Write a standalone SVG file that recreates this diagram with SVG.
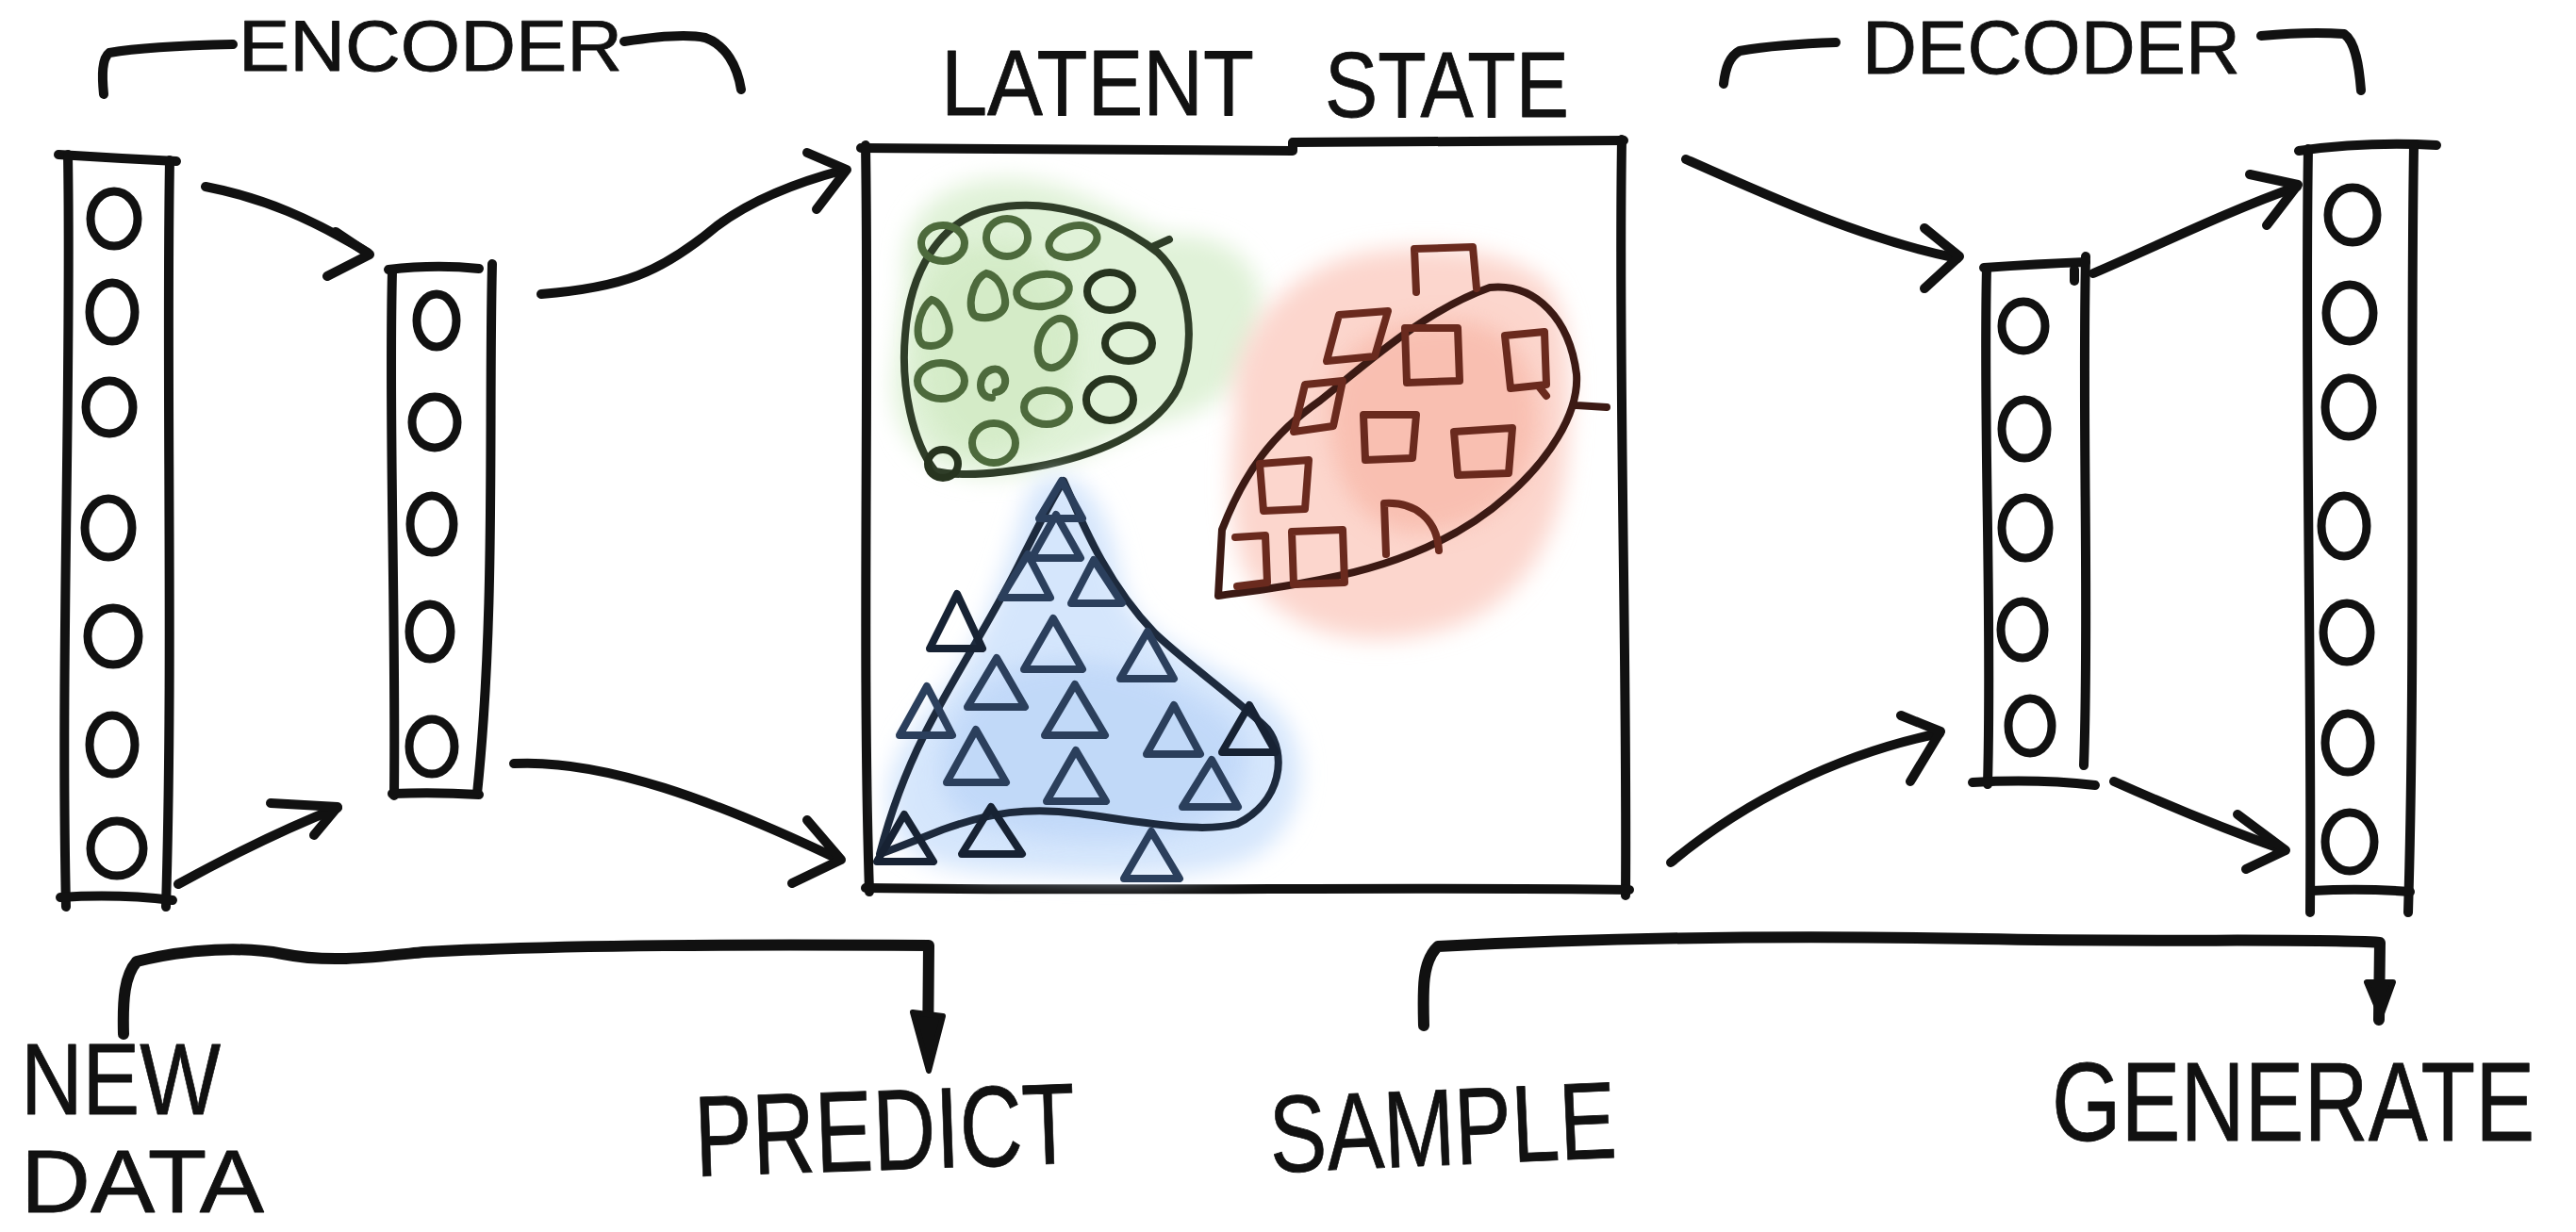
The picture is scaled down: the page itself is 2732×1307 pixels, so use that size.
<svg xmlns="http://www.w3.org/2000/svg" width="2732" height="1307" viewBox="0 0 2732 1307">
<defs>
<style>
.ink{fill:none;stroke:#111;stroke-width:10;stroke-linecap:round;stroke-linejoin:round}
.thick{stroke-width:12}
.unit{fill:none;stroke:#111;stroke-width:9}
.label{font-family:"Liberation Sans",Arial,sans-serif;fill:#111;stroke:#111;stroke-width:0.8;stroke-linejoin:round}
.gdot{fill:none;stroke:#4d6a3c;stroke-width:8;stroke-linecap:round}
.gdark{stroke:#27341f}
.rsq{fill:none;stroke:#6a2a1e;stroke-width:8;stroke-linejoin:round;stroke-linecap:round}
.btri{fill:none;stroke:#2b3f5c;stroke-width:8;stroke-linejoin:round;stroke-linecap:round}
.bdark{stroke:#172233}
.wash{filter:url(#wash)}
</style>
<filter id="wash" x="-20%" y="-20%" width="140%" height="140%"><feGaussianBlur stdDeviation="12"/></filter>
</defs>
<rect width="2732" height="1307" fill="#fff"/>

<!-- top labels with brackets -->
<g id="encoder-label">
<path class="ink" d="M110 100 C108 80,108 62,116 56 C150 50,200 48,247 47"/>
<path class="ink" d="M662 44 C700 38,730 36,748 40 C770 48,782 70,786 95"/>
<text class="label" x="253" y="75" font-size="76" textLength="407" lengthAdjust="spacingAndGlyphs">ENCODER</text>
</g>
<g id="latent-label">
<text class="label" x="998" y="122" font-size="98" textLength="332" lengthAdjust="spacingAndGlyphs">LATENT</text>
<text class="label" x="1405" y="124" font-size="98" textLength="259" lengthAdjust="spacingAndGlyphs">STATE</text>
</g>
<g id="decoder-label">
<path class="ink" d="M1828 89 C1830 72,1834 60,1845 54 C1880 48,1915 46,1947 45"/>
<path class="ink" d="M2398 38 C2430 35,2460 34,2486 36 C2498 44,2502 70,2504 96"/>
<text class="label" x="1975" y="78" font-size="80" textLength="401" lengthAdjust="spacingAndGlyphs">DECODER</text>
</g>

<!-- input layer -->
<g id="input-layer">
<path class="ink" d="M62 164 Q125 168 187 171"/>
<path class="ink" d="M72 164 C76 400,64 700,70 962"/>
<path class="ink" d="M180 170 C176 400,184 700,176 962"/>
<path class="ink" d="M64 952 Q125 948 183 955"/>
<ellipse class="unit" cx="121" cy="232" rx="25" ry="29"/>
<ellipse class="unit" cx="119" cy="331" rx="24" ry="31"/>
<ellipse class="unit" cx="116" cy="432" rx="25" ry="28"/>
<ellipse class="unit" cx="115" cy="560" rx="25" ry="31"/>
<ellipse class="unit" cx="120" cy="675" rx="27" ry="30"/>
<ellipse class="unit" cx="119" cy="790" rx="24" ry="31"/>
<ellipse class="unit" cx="124" cy="900" rx="28" ry="29"/>
</g>

<!-- encoder hidden layer -->
<g id="encoder-hidden">
<path class="ink" d="M412 286 Q462 280 508 285"/>
<path class="ink" d="M416 288 C412 450,420 650,418 844"/>
<path class="ink" d="M522 280 C518 450,526 650,506 842"/>
<path class="ink" d="M416 842 Q462 840 508 843"/>
<ellipse class="unit" cx="463" cy="340" rx="21" ry="28"/>
<ellipse class="unit" cx="461" cy="448" rx="24" ry="27"/>
<ellipse class="unit" cx="458" cy="556" rx="23" ry="30"/>
<ellipse class="unit" cx="456" cy="670" rx="22" ry="29"/>
<ellipse class="unit" cx="458" cy="792" rx="24" ry="29"/>
</g>

<!-- latent space frame -->
<g id="latent-state">
<path class="ink" d="M913 157 L1371 160 L1371 151 L1722 149"/>
<path class="ink" d="M918 154 C922 400,914 700,922 946"/>
<path class="ink" d="M1720 148 C1716 400,1726 700,1724 950"/>
<path class="ink" d="M918 942 C1200 946,1500 940,1728 944"/>
</g>

<!-- cluster of circles -->
<g id="cluster-circles">
<path class="wash" fill="#e0f2d8" d="M960 300 C950 220,1010 185,1080 190 C1150 195,1200 240,1240 250 C1300 245,1345 280,1338 340 C1332 410,1280 440,1220 450 C1170 470,1120 505,1050 505 C980 505,945 460,948 400 Z"/>
<path class="wash" fill="#d2eac4" opacity="0.8" d="M975 330 C980 270,1030 250,1080 260 C1120 270,1140 320,1140 380 C1140 440,1090 480,1040 480 C990 480,970 420,975 330 Z"/>
<path fill="none" stroke="#2f3d28" stroke-width="8" stroke-linecap="round" d="M992 500 C968 470,955 410,960 355 C965 290,995 235,1050 222 C1110 208,1180 230,1228 268 C1262 300,1270 360,1250 410 C1228 455,1170 480,1110 493 C1060 503,1020 506,992 500 Z M1222 262 L1240 254"/>
<ellipse class="gdot" cx="1000" cy="258" rx="23" ry="19"/>
<ellipse class="gdot" cx="1068" cy="252" rx="22" ry="20"/>
<ellipse class="gdot" cx="1138" cy="256" rx="26" ry="16" transform="rotate(-15 1138 256)"/>
<path class="gdot" d="M1046 290 C1030 296,1024 332,1036 336 C1052 340,1068 332,1066 318 C1064 302,1056 292,1046 290 Z"/>
<ellipse class="gdot" cx="1106" cy="308" rx="28" ry="17" transform="rotate(-8 1106 308)"/>
<ellipse class="gdot gdark" cx="1177" cy="309" rx="24" ry="20"/>
<path class="gdot" d="M988 318 C974 328,968 360,980 366 C996 370,1010 360,1006 344 C1002 330,996 320,988 318 Z"/>
<ellipse class="gdot" cx="1120" cy="364" rx="18" ry="27" transform="rotate(20 1120 364)"/>
<ellipse class="gdot gdark" cx="1197" cy="364" rx="25" ry="19"/>
<ellipse class="gdot" cx="998" cy="404" rx="25" ry="19"/>
<path class="gdot" d="M1052 422 C1036 422,1036 396,1052 392 C1068 388,1072 414,1056 416"/>
<ellipse class="gdot" cx="1110" cy="432" rx="24" ry="18"/>
<ellipse class="gdot gdark" cx="1177" cy="424" rx="25" ry="22"/>
<ellipse class="gdot" cx="1054" cy="470" rx="23" ry="21"/>
<ellipse class="gdot gdark" cx="1000" cy="492" rx="16" ry="15"/>
</g>

<!-- cluster of squares -->
<g id="cluster-squares">
<path class="wash" fill="#fcd6cd" d="M1310 440 C1300 360,1360 290,1440 270 C1520 255,1600 265,1640 300 C1670 340,1668 420,1660 500 C1650 580,1610 640,1540 665 C1460 690,1380 680,1330 620 C1300 580,1305 500,1310 440 Z"/>
<path class="wash" fill="#f8b8a8" opacity="0.75" d="M1410 420 C1420 360,1480 335,1550 340 C1610 345,1636 400,1630 460 C1622 520,1580 560,1510 565 C1450 568,1405 520,1410 420 Z"/>
<path fill="none" stroke="#3c1a14" stroke-width="8" stroke-linecap="round" stroke-linejoin="round" d="M1292 632 L1296 562 C1320 500,1350 460,1400 425 C1450 385,1510 330,1580 305 C1630 300,1665 340,1672 397 C1675 440,1640 490,1600 525 C1550 570,1480 600,1400 615 C1350 625,1320 628,1292 632 M1672 430 L1704 432"/>
<path class="rsq" d="M1502 310 L1500 264 L1562 262 L1566 306"/>
<path class="rsq" d="M1407 383 L1420 334 L1472 330 L1458 378 Z"/>
<path class="rsq" d="M1490 348 L1546 348 L1548 404 L1492 406 Z"/>
<path class="rsq" d="M1596 356 L1638 352 L1640 408 L1602 412 Z M1632 410 L1640 420"/>
<path class="rsq" d="M1372 458 L1384 408 L1424 404 L1414 452 Z"/>
<path class="rsq" d="M1446 440 L1502 440 L1498 486 L1448 488 Z"/>
<path class="rsq" d="M1542 458 L1604 454 L1600 502 L1546 504 Z"/>
<path class="rsq" d="M1336 492 L1388 488 L1384 540 L1340 542 Z"/>
<path class="rsq" d="M1470 588 L1468 534 C1500 532,1524 550,1526 584"/>
<path class="rsq" d="M1310 570 L1342 568 L1344 618 L1312 622"/>
<path class="rsq" d="M1370 564 L1424 562 L1426 618 L1372 620 Z"/>
</g>

<!-- cluster of triangles -->
<g id="cluster-triangles">
<path class="wash" fill="#d5e6fc" d="M1120 505 C1160 505,1180 560,1190 620 C1205 680,1280 700,1340 740 C1392 780,1392 860,1340 902 C1290 936,1180 932,1100 928 C1020 926,960 922,945 870 C930 810,980 760,1010 720 C1040 680,1060 620,1080 560 C1090 520,1100 505,1120 505 Z"/>
<path class="wash" fill="#bdd6f8" opacity="0.8" d="M1000 800 C1010 740,1060 700,1130 700 C1200 700,1260 730,1300 760 C1340 800,1320 860,1260 880 C1180 900,1080 890,1030 870 C1000 855,995 830,1000 800 Z"/>
<path fill="none" stroke="#1d2a3d" stroke-width="8" stroke-linecap="round" stroke-linejoin="round" d="M1128 510 C1150 560,1175 620,1225 672 C1260 705,1310 740,1344 773 C1365 800,1360 850,1312 874 C1270 885,1200 870,1144 863 C1090 856,1050 862,1000 880 C970 892,945 902,933 906 C945 860,960 820,980 780 C1010 720,1050 660,1080 600 C1100 560,1115 530,1128 510 Z"/>
<path class="btri" d="M1102 550 L1126 510 L1148 550 Z"/>
<path class="btri" d="M1094 592 L1120 546 L1146 592 Z"/>
<path class="btri" d="M1062 634 L1090 588 L1114 634 Z"/>
<path class="btri" d="M1136 640 L1160 594 L1190 640 Z"/>
<path class="btri bdark" d="M986 688 L1015 630 L1042 688 Z"/>
<path class="btri" d="M1086 710 L1117 656 L1148 710 Z"/>
<path class="btri" d="M1188 720 L1217 670 L1245 720 Z"/>
<path class="btri" d="M1026 750 L1057 698 L1087 750 Z"/>
<path class="btri" d="M1108 780 L1140 726 L1172 780 Z"/>
<path class="btri" d="M954 780 L983 728 L1010 780 Z"/>
<path class="btri" d="M1216 800 L1245 748 L1273 800 Z"/>
<path class="btri bdark" d="M1296 798 L1325 748 L1353 798 Z"/>
<path class="btri" d="M1004 830 L1035 774 L1067 830 Z"/>
<path class="btri" d="M1110 850 L1141 796 L1173 850 Z"/>
<path class="btri" d="M1254 856 L1285 806 L1313 856 Z"/>
<path class="btri bdark" d="M930 914 L959 864 L990 914 Z"/>
<path class="btri bdark" d="M1020 906 L1051 856 L1084 906 Z"/>
<path class="btri" d="M1192 932 L1221 882 L1251 932 Z"/>
</g>

<!-- decoder hidden layer -->
<g id="decoder-hidden">
<path class="ink" d="M2104 284 Q2160 280 2212 278"/>
<path class="ink" d="M2107 284 C2103 450,2113 650,2108 832"/>
<path class="ink" d="M2212 272 C2208 450,2216 650,2210 812"/>
<path class="ink" d="M2200 286 L2200 298"/>
<path class="ink" d="M2092 830 Q2160 826 2222 833"/>
<ellipse class="unit" cx="2146" cy="346" rx="23" ry="26"/>
<ellipse class="unit" cx="2147" cy="455" rx="24" ry="31"/>
<ellipse class="unit" cx="2148" cy="560" rx="25" ry="32"/>
<ellipse class="unit" cx="2145" cy="668" rx="23" ry="30"/>
<ellipse class="unit" cx="2153" cy="770" rx="23" ry="29"/>
</g>

<!-- output layer -->
<g id="output-layer">
<path class="ink" d="M2438 160 Q2510 150 2584 154"/>
<path class="ink" d="M2448 158 C2444 400,2452 700,2450 968"/>
<path class="ink" d="M2560 155 C2556 400,2562 700,2554 968"/>
<path class="ink" d="M2452 945 Q2505 942 2556 946"/>
<ellipse class="unit" cx="2495" cy="228" rx="26" ry="29"/>
<ellipse class="unit" cx="2492" cy="332" rx="25" ry="30"/>
<ellipse class="unit" cx="2491" cy="432" rx="25" ry="31"/>
<ellipse class="unit" cx="2486" cy="558" rx="24" ry="32"/>
<ellipse class="unit" cx="2489" cy="671" rx="25" ry="31"/>
<ellipse class="unit" cx="2490" cy="788" rx="24" ry="31"/>
<ellipse class="unit" cx="2492" cy="893" rx="26" ry="31"/>
</g>

<!-- bottom labels -->
<g id="new-data">
<text class="label" x="22" y="1182" font-size="108" textLength="212" lengthAdjust="spacingAndGlyphs">NEW</text>
<text class="label" x="22" y="1286" font-size="95" textLength="258" lengthAdjust="spacingAndGlyphs">DATA</text>
</g>
<g id="predict">
<text class="label" x="738" y="1248" font-size="122" textLength="404" lengthAdjust="spacingAndGlyphs" transform="rotate(-2 738 1248)">PREDICT</text>
</g>
<g id="sample">
<text class="label" x="1348" y="1244" font-size="116" textLength="368" lengthAdjust="spacingAndGlyphs" transform="rotate(-2.5 1348 1244)">SAMPLE</text>
</g>
<g id="generate">
<!-- narrow lettering: squeeze horizontally -->
<text class="label" x="0" y="0" font-size="118" transform="matrix(0.8 0 0 1 2176 1210)">GENERATE</text>
</g>

<!-- connectors -->
<g id="connectors">
<path class="ink" d="M218 198 C280 210,330 232,390 268"/>
<path class="ink" d="M356 246 L392 270 L347 293"/>
<path class="ink" d="M189 938 C240 910,300 880,358 857"/>
<path class="ink" d="M287 852 L358 856 L333 886"/>
<path class="ink" d="M574 312 C660 305,700 290,760 240 C800 210,850 192,896 180"/>
<path class="ink" d="M856 162 L898 180 L866 222"/>
<path class="ink" d="M545 810 C640 805,760 850,890 912"/>
<path class="ink" d="M856 870 L892 912 L840 937"/>
<path class="ink" d="M1788 169 C1880 210,1980 255,2076 274"/>
<path class="ink" d="M2041 242 L2078 272 L2041 306"/>
<path class="ink" d="M2220 290 C2290 260,2360 225,2436 198"/>
<path class="ink" d="M2386 185 L2437 196 L2404 239"/>
<path class="ink" d="M1772 915 C1850 850,1950 800,2057 778"/>
<path class="ink" d="M2016 759 L2058 776 L2026 829"/>
<path class="ink" d="M2242 829 C2300 855,2360 880,2423 902"/>
<path class="ink" d="M2373 864 L2424 902 L2382 922"/>
<path class="ink thick" d="M131 1097 C130 1060,132 1035,145 1020 C200 1006,260 1004,300 1012 C350 1022,400 1015,450 1010 C600 1002,800 1002,985 1003 L984 1120"/>
<path fill="#111" stroke="#111" stroke-width="6" stroke-linejoin="round" d="M968 1074 L1000 1078 L985 1136 Z"/>
<path class="ink thick" d="M1510 1088 C1509 1050,1508 1020,1525 1004 C1700 995,1900 992,2100 996 C2300 1000,2450 995,2524 1000 L2523 1082"/>
<path fill="#111" stroke="#111" stroke-width="6" stroke-linejoin="round" d="M2510 1042 L2538 1042 L2525 1078 Z"/>
</g>
</svg>
